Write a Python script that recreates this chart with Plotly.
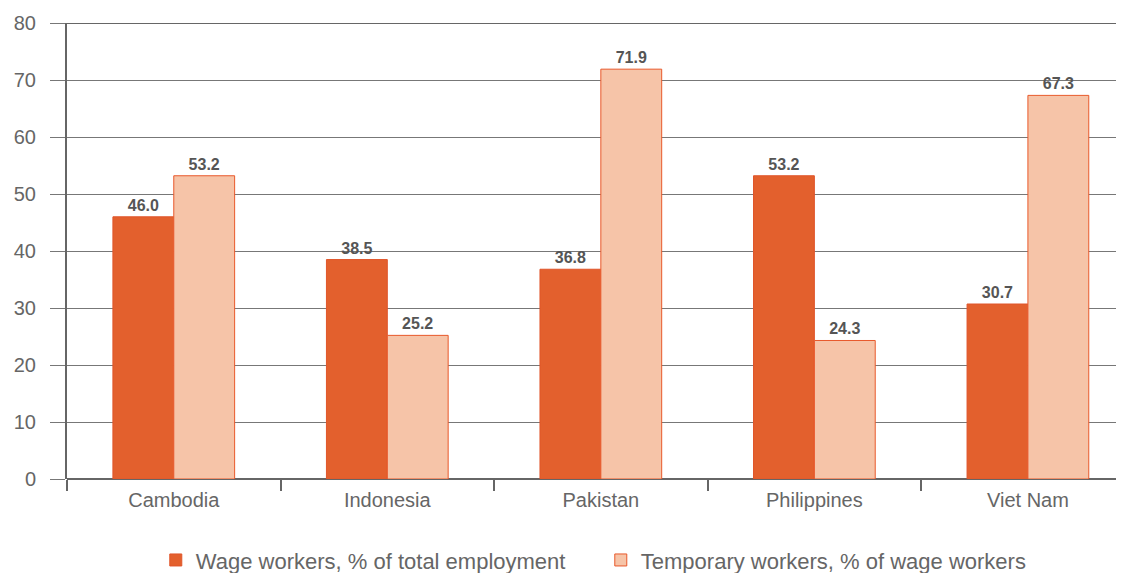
import plotly.graph_objects as go

countries = ["Cambodia", "Indonesia", "Pakistan", "Philippines", "Viet Nam"]
wage_workers = [46.0, 38.5, 36.8, 53.2, 30.7]
temporary_workers = [53.2, 25.2, 71.9, 24.3, 67.3]

label_font = dict(family="Liberation Sans, Arial", size=16, color="#555555")

fig = go.Figure()
fig.add_trace(go.Bar(
    x=countries, y=wage_workers,
    name="Wage workers, % of total employment",
    marker=dict(color="#E3602D", line=dict(color="#E0552A", width=1)),
    text=wage_workers, texttemplate="<b>%{y:.1f}</b>",
    textposition="outside", textfont=label_font, cliponaxis=False,
))
fig.add_trace(go.Bar(
    x=countries, y=temporary_workers,
    name="Temporary workers, % of wage workers",
    marker=dict(color="#F6C4A8", line=dict(color="#E8592B", width=1)),
    text=temporary_workers, texttemplate="<b>%{y:.1f}</b>",
    textposition="outside", textfont=label_font, cliponaxis=False,
))

# page has an 8px body margin, so the figure is a bit smaller than the window
fig.update_layout(
    width=1116, height=565,
    margin=dict(l=59, r=0, t=15, b=94, autoexpand=False),
    plot_bgcolor="white", paper_bgcolor="white",
    barmode="group", bargap=0.43, bargroupgap=0,
    font=dict(family="Liberation Sans, Arial", color="#666666", size=20),
    legend=dict(orientation="h", x=0.505, xanchor="center", y=-0.178, yanchor="middle",
                font=dict(size=22, color="#666666"), itemwidth=30, entrywidth=400),
    xaxis=dict(
        range=[-0.5, 4.45], tickson="boundaries", ticks="outside", ticklen=11,
        tickcolor="#666666", tickwidth=2, showgrid=False, automargin=False,
        showline=False, tickfont=dict(size=20, color="#666666"), ticklabelstandoff=7,
    ),
    yaxis=dict(
        range=[0, 80], dtick=10, showgrid=True, gridcolor="#777777", gridwidth=1,
        zeroline=True, zerolinecolor="#666666", zerolinewidth=2, automargin=False,
        showline=True, linecolor="#666666", linewidth=2,
        ticks="outside", ticklen=15, tickcolor="#777777", tickwidth=1,
        tickfont=dict(size=20, color="#666666"), ticklabelstandoff=10,
    ),
)
fig.add_shape(type="line", xref="paper", yref="y", x0=0, x1=1, y0=80, y1=80,
              line=dict(color="#666666", width=2))

fig.write_html("out.html")
